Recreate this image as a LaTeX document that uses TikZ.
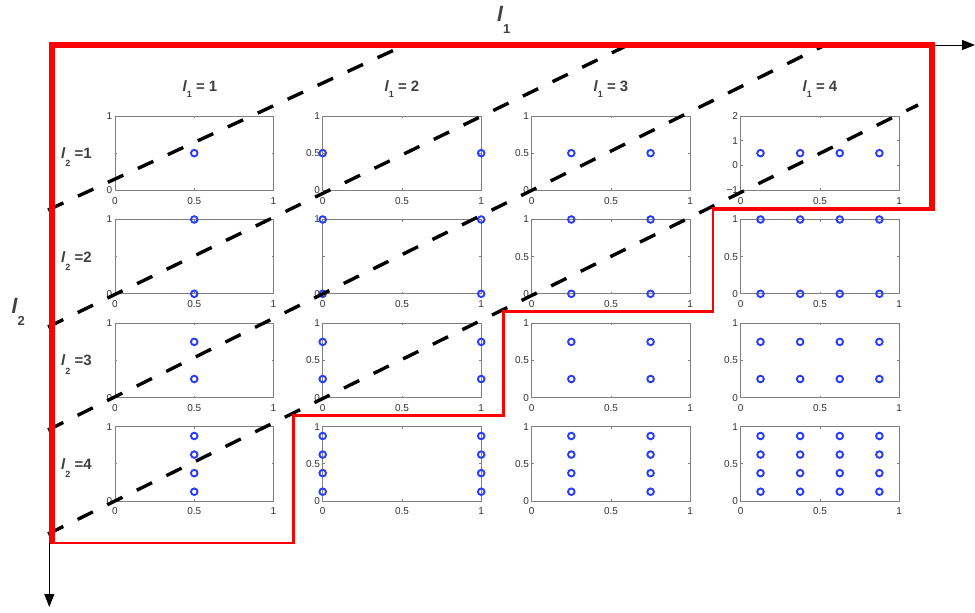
\documentclass[tikz,border=0pt]{standalone}
\usepackage{fontspec}
\setmainfont{Liberation Sans}
\usetikzlibrary{arrows.meta}
\definecolor{mkblue}{RGB}{40,60,255}
\definecolor{txtgray}{RGB}{64,64,64}
\definecolor{ticktext}{RGB}{50,50,50}
\definecolor{frgray}{RGB}{128,128,128}
\newcommand{\ytA}{%
  \draw[frame] (0,37.15) -- ++(2,0) (158.5,37.15) -- ++(-2,0);
  \node[tl,anchor=east] at (-2.5,0) {1};
  \node[tl,anchor=east] at (-2.5,74.3) {0};}
\newcommand{\ytB}{\ytA\node[tl,anchor=east] at (-2.5,37.15) {0.5};}
\newcommand{\ytC}{%
  \draw[frame] (0,24.77) -- ++(2,0) (158.5,24.77) -- ++(-2,0)
               (0,49.53) -- ++(2,0) (158.5,49.53) -- ++(-2,0);
  \node[tl,anchor=east] at (-2.5,0) {2};
  \node[tl,anchor=east] at (-2.5,24.77) {1};
  \node[tl,anchor=east] at (-2.5,49.53) {0};
  \node[tl,anchor=east] at (-2.5,74.3) {−1};}
\newcommand{\cell}[5]{%
  \begin{scope}[shift={(#1,#2)}]
    \draw[frame] (0,0) rectangle (158.5,74.3);
    \draw[frame] (79.25,0) -- ++(0,2) (79.25,74.3) -- ++(0,-2);
    #3
    \node[tl] at (0,84.6) {0};
    \node[tl] at (79.25,84.6) {0.5};
    \node[tl] at (158.5,84.6) {1};
    \foreach \uu in {#4}{\foreach \vv in {#5}{%
      \draw[mk] ({\uu*158.5},{(1-\vv)*74.3}) circle[radius=3.3pt];}}
  \end{scope}}
\newcommand{\colhead}[1]{{\bfseries\itshape l}\raisebox{-6.6pt}{\fontsize{9}{9}\selectfont\bfseries 1}\ {\bfseries = #1}}
\newcommand{\rowhead}[1]{{\bfseries\itshape l}\raisebox{-8.5pt}{\fontsize{9}{9}\selectfont\bfseries 2}\ {\bfseries =#1}}
\begin{document}
\begin{tikzpicture}[x=1pt,y=-1pt,
  frame/.style={draw=frgray,line width=0.9pt},
  mk/.style={draw=mkblue,line width=1.9pt},
  tl/.style={font=\fontsize{10}{11}\selectfont,text=ticktext,inner sep=0pt},
  dashline/.style={black,line width=3.4pt,dash pattern=on 17pt off 16pt},
  hdr/.style={font=\fontsize{15}{15}\selectfont,text=txtgray,inner sep=0pt,anchor=base},
  rhdr/.style={font=\fontsize{15}{15}\selectfont,text=txtgray,inner sep=0pt,anchor=base west},
  axlbl/.style={text=txtgray,inner sep=0pt,anchor=base west},
  thickred/.style={draw=red,line width=6.5pt,line join=miter},
  axarrow/.style={draw=black,line width=1pt,-{Triangle[length=13pt,width=10pt]}}]
\useasboundingbox (0,0) rectangle (975,613);
% plots: columns l1 = 1..4, rows l2 = 1..4
\cell{115}{116}{\ytA}{0.5}{0.5}
\cell{322.7}{116}{\ytB}{0,1}{0.5}
\cell{531.7}{116}{\ytB}{0.25,0.75}{0.5}
\cell{740.7}{116}{\ytC}{0.125,0.375,0.625,0.875}{0.5}
\cell{115}{219.5}{\ytA}{0.5}{0,1}
\cell{322.7}{219.5}{\ytA}{0,1}{0,1}
\cell{531.7}{219.5}{\ytB}{0.25,0.75}{0,1}
\cell{740.7}{219.5}{\ytB}{0.125,0.375,0.625,0.875}{0,1}
\cell{115}{323.3}{\ytA}{0.5}{0.25,0.75}
\cell{322.7}{323.3}{\ytB}{0,1}{0.25,0.75}
\cell{531.7}{323.3}{\ytB}{0.25,0.75}{0.25,0.75}
\cell{740.7}{323.3}{\ytB}{0.125,0.375,0.625,0.875}{0.25,0.75}
\cell{115}{426.7}{\ytA}{0.5}{0.125,0.375,0.625,0.875}
\cell{322.7}{426.7}{\ytB}{0,1}{0.125,0.375,0.625,0.875}
\cell{531.7}{426.7}{\ytB}{0.25,0.75}{0.125,0.375,0.625,0.875}
\cell{740.7}{426.7}{\ytB}{0.125,0.375,0.625,0.875}{0.125,0.375,0.625,0.875}
% headers
\node[hdr] (h1) at (200,91) {\colhead{1}};
\node[hdr] (h2) at (402,91) {\colhead{2}};
\node[hdr] (h3) at (611,91) {\colhead{3}};
\node[hdr] (h4) at (820,91) {\colhead{4}};
\node[rhdr] (r1) at (61,158) {\rowhead{1}};
\node[rhdr] (r2) at (61,262) {\rowhead{2}};
\node[rhdr] (r3) at (61,365.5) {\rowhead{3}};
\node[rhdr] (r4) at (61,469) {\rowhead{4}};
% dashed diagonals
\coordinate (a0) at (48,534);  \coordinate (a1) at (918,105);
\coordinate (b0) at (48,430);  \coordinate (b1) at (825,45);
\coordinate (c0) at (48,327);  \coordinate (c1) at (628,45);
\coordinate (d0) at (48,210);  \coordinate (d1) at (405,45);
\draw[dashline] (a0) -- (a1);
\draw[dashline] (b0) -- (b1);
\draw[dashline] (c0) -- (c1);
\draw[dashline] (d0) -- (d1);
% red boundary
\coordinate (p0) at (52,544);
\coordinate (p1) at (52,45);
\coordinate (p2) at (932,45);
\coordinate (p3) at (932,211);
\draw[thickred] (p0) -- (p1) -- (p2) -- (p3);
\draw[red,line width=3.4pt] (935.25,209) -- (711.5,209);
\draw[red,line width=2.4pt] (712.7,209) -- (712.7,311.5) -- (503.5,311.5)
  -- (503.5,415.5) -- (293.5,415.5) -- (293.5,542.8) -- (52,542.8);
% axes
\coordinate (xs) at (935,45);  \coordinate (xe) at (975,45);
\coordinate (ys) at (49.3,543); \coordinate (ye) at (49.3,607);
\draw[axarrow] (xs) -- (xe);
\draw[axarrow] (ys) -- (ye);
\node[axlbl] (L1) at (497,21.7) {{\fontsize{21}{21}\selectfont\bfseries\itshape l}\raisebox{-11.6pt}{\fontsize{13}{13}\selectfont\bfseries 1}};
\node[axlbl] (L2) at (11.5,313) {{\fontsize{21}{21}\selectfont\bfseries\itshape l}\raisebox{-12pt}{\fontsize{13}{13}\selectfont\bfseries 2}};
\end{tikzpicture}
\end{document}
